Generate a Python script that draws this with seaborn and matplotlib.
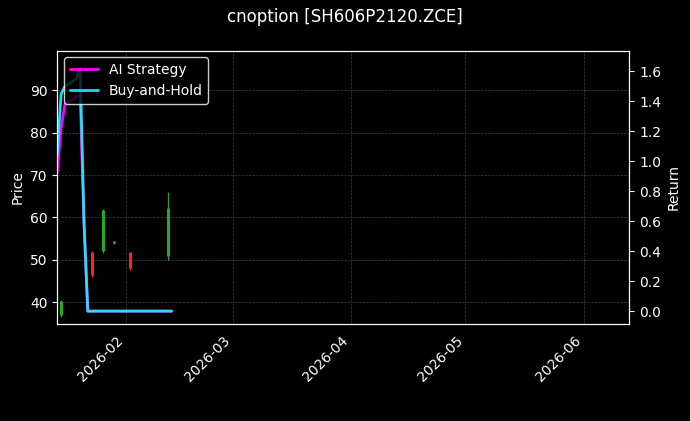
import matplotlib
matplotlib.use("Agg")
import matplotlib.pyplot as plt
import matplotlib.dates as mdates
import matplotlib.ticker as mticker
import seaborn as sns
import pandas as pd

candle_dates = ["2026-01-15", "2026-01-23", "2026-01-26", "2026-01-29", "2026-02-02", "2026-02-12"]
c_open = [37.0, 51.5, 52.0, 54.0, 51.5, 51.0]
c_close = [40.0, 46.5, 61.5, 54.2, 48.0, 62.0]
c_high = [40.5, 52.0, 62.0, 54.5, 51.8, 66.0]
c_low = [36.5, 46.0, 51.5, 53.8, 47.5, 50.0]

line_dates = ["2026-01-14", "2026-01-15", "2026-01-16", "2026-01-19", "2026-01-20", "2026-01-21",
              "2026-01-22", "2026-01-23", "2026-01-26", "2026-01-27", "2026-01-28", "2026-01-29",
              "2026-01-30", "2026-02-02", "2026-02-03", "2026-02-04", "2026-02-05", "2026-02-06",
              "2026-02-09", "2026-02-10", "2026-02-11", "2026-02-12", "2026-02-13"]
ai_ret = [0.93, 1.22, 1.38, 1.43, 1.44, 0.6, 0.0, 0.0, 0.0, 0.0, 0.0, 0.0,
          0.0, 0.0, 0.0, 0.0, 0.0, 0.0, 0.0, 0.0, 0.0, 0.0, 0.0]
bh_ret = [1.05, 1.45, 1.50, 1.55, 1.62, 0.6, 0.0, 0.0, 0.0, 0.0, 0.0, 0.0,
          0.0, 0.0, 0.0, 0.0, 0.0, 0.0, 0.0, 0.0, 0.0, 0.0, 0.0]

plt.style.use("dark_background")
sns.set_style("dark", {"axes.facecolor": "black", "figure.facecolor": "black"})
plt.rcParams.update({"text.color": "white", "axes.labelcolor": "white",
                     "xtick.color": "white", "ytick.color": "white",
                     "axes.edgecolor": "white"})

fig, ax = plt.subplots(figsize=(6.9, 4.21), dpi=100)
fig.patch.set_facecolor("black")
ax.set_facecolor("black")

cd = pd.to_datetime(candle_dates)
for d, o, c, h, l in zip(cd, c_open, c_close, c_high, c_low):
    col = "#22aa22" if c >= o else "#ff2020"
    x = mdates.date2num(d)
    ax.vlines(x, l, h, color=col, linewidth=0.8)
    ax.vlines(x, min(o, c), max(o, c) + 0.3, color=col, linewidth=2.2)

ax.set_ylabel("Price")
ax.set_ylim(34.8, 99.4)
ax.grid(True, color="gray", linestyle="--", linewidth=0.5, alpha=0.5)

ax2 = ax.twinx()
df = pd.DataFrame({"date": pd.to_datetime(line_dates), "ai": ai_ret, "bh": bh_ret})
sns.lineplot(data=df, x="date", y="ai", ax=ax2, color="#ff00ff", linewidth=2, label="AI Strategy")
sns.lineplot(data=df, x="date", y="bh", ax=ax2, color="#22e5ff", linewidth=2, alpha=0.95, label="Buy-and-Hold")
ax2.set_ylabel("Return")
ax2.set_xlabel("")
ax2.set_ylim(-0.087, 1.74)
ax2.yaxis.set_major_locator(mticker.MultipleLocator(0.2))
ax2.yaxis.set_major_formatter(mticker.FormatStrFormatter("%.1f"))
ax2.legend(loc="upper left", facecolor="black", edgecolor="white")

ax.set_xlim(mdates.date2num(pd.Timestamp("2026-01-14")), mdates.date2num(pd.Timestamp("2026-06-13")))
ax.xaxis.set_major_locator(mdates.MonthLocator())
ax.xaxis.set_major_formatter(mdates.DateFormatter("%Y-%m"))
for lbl in ax.get_xticklabels():
    lbl.set_rotation(45)
    lbl.set_ha("right")
ax.set_xlabel("")

fig.suptitle("cnoption [SH606P2120.ZCE]", color="white")
fig.subplots_adjust(left=0.083, right=0.912, top=0.88, bottom=0.23)
fig.savefig("out.png", dpi=100, facecolor="black")
